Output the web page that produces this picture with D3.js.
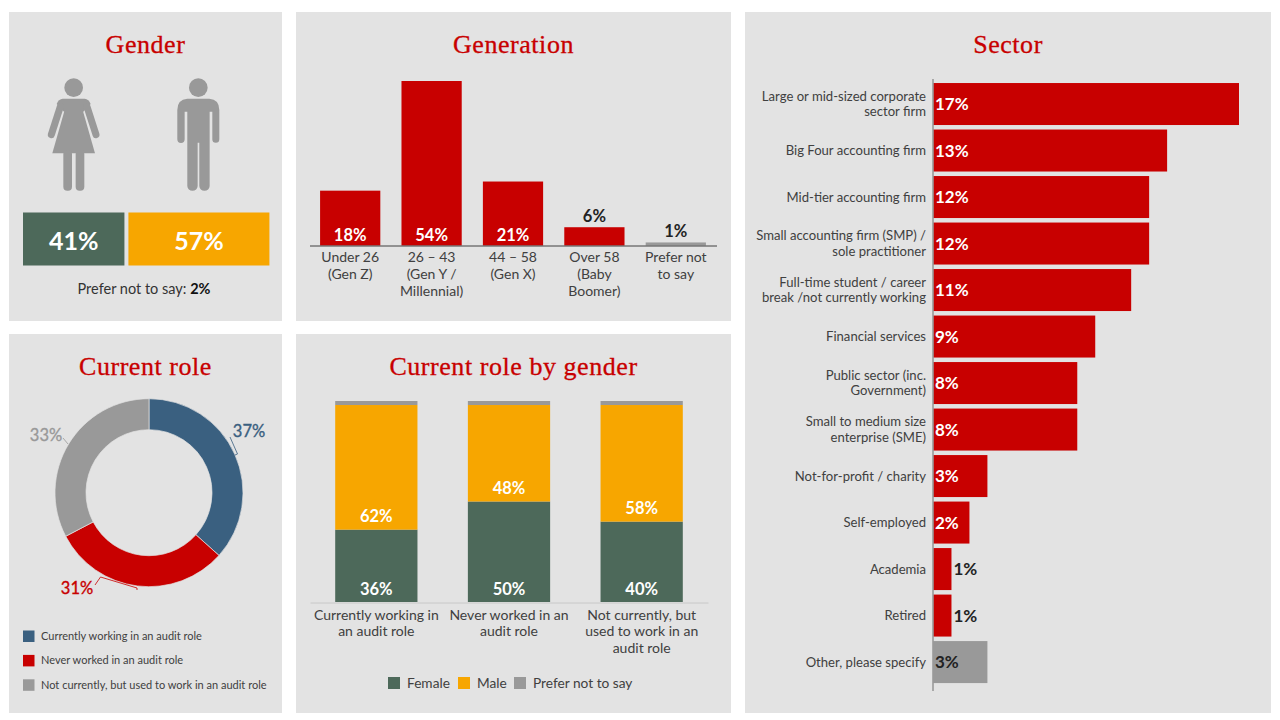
<!DOCTYPE html>
<html>
<head>
<meta charset="utf-8">
<script src="https://cdn.jsdelivr.net/npm/d3@7"></script>
<style>
body { margin: 0; background: #fff; }
text { font-family: Lato, "Open Sans", sans-serif; }
.title { font-family: "Liberation Serif", serif; font-size: 26px; letter-spacing: 0.55px; fill: #c80000; text-anchor: middle; stroke: #c80000; stroke-width: 0.3px; }
.tick text { fill: #404040; }
</style>
</head>
<body>
<script>
var RED = "#c80000", GREEN = "#4d695a", ORANGE = "#f7a600", GREY = "#999999", BLUE = "#3a6080";

// gender
var genderValues = [41, 57];
var genderOther = 2;

// generation
var genCategories = ["Under 26|(Gen Z)", "26 – 43|(Gen Y /|Millennial)", "44 – 58|(Gen X)", "Over 58|(Baby|Boomer)", "Prefer not|to say"];
var genValues = [18, 54, 21, 6, 1];

// current role donut
var roleNames = ["Currently working in an audit role", "Never worked in an audit role", "Not currently, but used to work in an audit role"];
var roleValues = [37, 31, 33];

// current role by gender
var stackCategories = ["Currently working in|an audit role", "Never worked in an|audit role", "Not currently, but|used to work in an|audit role"];
var stackFemale = [36, 50, 40];
var stackMale = [62, 48, 58];
var stackOther = [2, 2, 2];
var stackKeys = ["Female", "Male", "Prefer not to say"];

// sector
var sectorCategories = ["Large or mid-sized corporate|sector firm", "Big Four accounting firm", "Mid-tier accounting firm",
  "Small accounting firm (SMP) /|sole practitioner", "Full-time student / career|break /not currently working", "Financial services",
  "Public sector (inc.|Government)", "Small to medium size|enterprise (SME)", "Not-for-profit / charity", "Self-employed",
  "Academia", "Retired", "Other, please specify"];
var sectorValues = [17, 13, 12, 12, 11, 9, 8, 8, 3, 2, 1, 1, 3];

var svg = d3.select("body").append("svg")
  .attr("width", 1280)
  .attr("height", 720)
  .style("display", "block");

// panels
var panels = [[9, 12, 273, 309], [296, 12, 435, 309], [9, 334, 273, 379], [296, 334, 435, 379], [745, 12, 526, 701]];
svg.selectAll("rect.panel").data(panels).enter().append("rect")
  .attr("class", "panel")
  .attr("x", function(d) { return d[0]; })
  .attr("y", function(d) { return d[1]; })
  .attr("width", function(d) { return d[2]; })
  .attr("height", function(d) { return d[3]; })
  .attr("fill", "#e3e3e3");

function title(t, x, y) {
  svg.append("text").attr("class", "title").attr("x", x).attr("y", y).text(t);
}
title("Gender", 145.5, 53);
title("Generation", 513.5, 53);
title("Current role", 145.5, 375);
title("Current role by gender", 513.5, 375);
title("Sector", 1008, 53);

// puts "a|b|c" labels of an axis on separate lines
function wrapTicks(sel, lineHeight, firstDy) {
  sel.selectAll(".tick text").each(function(d) {
    var t = d3.select(this), x = t.attr("x") || 0;
    var lines = d.split("|");
    t.text(null);
    lines.forEach(function(l, i) {
      t.append("tspan").attr("x", x)
        .attr("dy", i == 0 ? (firstDy === null ? (-(lines.length - 1) * lineHeight / 2 + 4.5) : firstDy) : lineHeight)
        .text(l);
    });
  });
}

/* ---- Gender ---- */
var icons = svg.append("g").attr("transform", "scale(0.3333)").attr("fill", GREY);
// woman
icons.append("circle").attr("cx", 221).attr("cy", 263).attr("r", 28);
icons.append("path").attr("d", "M188,296 H254 Q266,297 272,312 L250,335 H192 L170,312 Q176,297 188,296 Z");
icons.append("path").attr("d", "M194,330 L157,460 H285 L248,330 Z");
icons.append("rect").attr("x", 190).attr("y", 450).attr("width", 26).attr("height", 122).attr("rx", 12);
icons.append("rect").attr("x", 227).attr("y", 450).attr("width", 26).attr("height", 122).attr("rx", 12);
icons.selectAll("line.arm").data([[181, 154], [261, 288]]).enter().append("line")
  .attr("class", "arm")
  .attr("x1", function(d) { return d[0]; }).attr("y1", 320)
  .attr("x2", function(d) { return d[1]; }).attr("y2", 404)
  .attr("stroke", GREY).attr("stroke-width", 21).attr("stroke-linecap", "round");
// man
icons.append("circle").attr("cx", 595).attr("cy", 263).attr("r", 28);
icons.append("path").attr("d", "M562,296 H628 Q658,298 658,330 V418 A10.5,10.5 0 0 1 637,418 V335 H629 V558 A15,14 0 0 1 598,558 V428 H593 V558 A15,14 0 0 1 562,558 V335 H554 V418 A10.5,10.5 0 0 1 532,418 V330 Q532,298 562,296 Z");

var genderW = d3.scaleLinear().domain([0, 57]).range([0, 141]);
var genderColors = [GREEN, ORANGE];
var genderX = [23, 23 + genderW(genderValues[0]) + 4];
svg.selectAll("rect.gender").data(genderValues).enter().append("rect")
  .attr("class", "gender")
  .attr("x", function(d, i) { return genderX[i]; })
  .attr("y", 212.5)
  .attr("width", function(d) { return genderW(d); })
  .attr("height", 53)
  .attr("fill", function(d, i) { return genderColors[i]; });
svg.selectAll("text.gender").data(genderValues).enter().append("text")
  .attr("class", "gender")
  .attr("x", function(d, i) { return genderX[i] + genderW(d) / 2; })
  .attr("y", 250)
  .attr("text-anchor", "middle")
  .attr("font-size", 25)
  .attr("font-weight", 700)
  .attr("fill", "#fff")
  .text(function(d) { return d + "%"; });
var pref = svg.append("text").attr("x", 144).attr("y", 294).attr("text-anchor", "middle")
  .attr("font-size", 14.5).attr("fill", "#333");
pref.append("tspan").text("Prefer not to say: ");
pref.append("tspan").attr("font-weight", 700).attr("fill", "#111").text(genderOther + "%");

/* ---- Generation ---- */
var genX = d3.scaleBand().domain(genCategories).range([309.5, 716.5]).paddingInner(0.26).paddingOuter(0.13);
var genY = d3.scaleLinear().domain([0, 54]).range([245.5, 81]);

svg.selectAll("rect.gen").data(genValues).enter().append("rect")
  .attr("class", "gen")
  .attr("x", function(d, i) { return genX(genCategories[i]); })
  .attr("y", function(d) { return genY(d); })
  .attr("width", genX.bandwidth())
  .attr("height", function(d) { return genY(0) - genY(d); })
  .attr("fill", function(d, i) { return i == 4 ? GREY : RED; });
svg.selectAll("text.gen").data(genValues).enter().append("text")
  .attr("class", "gen")
  .attr("x", function(d, i) { return genX(genCategories[i]) + genX.bandwidth() / 2; })
  .attr("y", function(d) { return d > 10 ? 240.5 : genY(d) - 5; })
  .attr("text-anchor", "middle")
  .attr("font-size", 16.5)
  .attr("font-weight", 700)
  .attr("fill", function(d) { return d > 10 ? "#fff" : "#222"; })
  .text(function(d) { return d + "%"; });

var genAxis = svg.append("g").attr("transform", "translate(0,245.5)")
  .call(d3.axisBottom(genX).tickSize(0).tickPadding(0));
genAxis.select(".domain").attr("stroke", "#404040");
genAxis.selectAll(".tick text").attr("font-size", 14).attr("y", 0).attr("dy", null);
wrapTicks(genAxis, 16.8, 16.5);

/* ---- Current role donut ---- */
var roleColors = [BLUE, RED, GREY];
var pie = d3.pie().sort(null).value(function(d) { return d; });
var arc = d3.arc().innerRadius(63).outerRadius(94);
var donut = svg.append("g").attr("transform", "translate(149,492.7)");
donut.selectAll("path").data(pie(roleValues)).enter().append("path")
  .attr("d", arc)
  .attr("fill", function(d, i) { return roleColors[i]; })
  .attr("stroke", "#e3e3e3")
  .attr("stroke-width", 0.7);

// leader lines
var leaders = [
  [BLUE, "M230,437 L237.5,454 L235,455"],
  [RED, "M95,585 L100.5,577 L137,588 L137,590"],
  [GREY, "M63,438 L68,444"]
];
svg.selectAll("path.leader").data(leaders).enter().append("path")
  .attr("class", "leader")
  .attr("d", function(d) { return d[1]; })
  .attr("fill", "none")
  .attr("stroke", function(d) { return d[0]; })
  .attr("stroke-width", 0.8);

var roleLabelPos = [[249, 437], [77, 594], [46, 441]];
svg.selectAll("text.rolelabel").data(roleValues).enter().append("text")
  .attr("class", "rolelabel")
  .attr("x", function(d, i) { return roleLabelPos[i][0]; })
  .attr("y", function(d, i) { return roleLabelPos[i][1]; })
  .attr("text-anchor", "middle")
  .attr("font-size", 16.5)
  .attr("fill", function(d, i) { return roleColors[i]; })
  .attr("stroke", function(d, i) { return roleColors[i]; })
  .attr("stroke-width", 0.35)
  .text(function(d) { return d + "%"; });

var roleLegend = svg.selectAll("g.rolelegend").data(roleNames).enter().append("g")
  .attr("class", "rolelegend")
  .attr("transform", function(d, i) { return "translate(23," + (636 + i * 24.4) + ")"; });
roleLegend.append("rect").attr("y", -5.5).attr("width", 11.5).attr("height", 11.5)
  .attr("fill", function(d, i) { return roleColors[i]; });
roleLegend.append("text").attr("x", 18).attr("y", 4).attr("font-size", 11)
  .attr("fill", "#404040").text(function(d) { return d; });

/* ---- Current role by gender ---- */
var stackRows = stackCategories.map(function(c, i) {
  return { cat: c, "Female": stackFemale[i], "Male": stackMale[i], "Prefer not to say": stackOther[i] };
});
var stackColors = d3.scaleOrdinal().domain(stackKeys).range([GREEN, ORANGE, GREY]);
var stackX = d3.scaleBand().domain(stackCategories).range([310, 708]).paddingInner(0.38).paddingOuter(0.19);
var stackY = d3.scaleLinear().domain([0, 100]).range([602, 401]);
var stacked = d3.stack().keys(stackKeys)(stackRows);

var layers = svg.selectAll("g.layer").data(stacked).enter().append("g")
  .attr("class", "layer")
  .attr("fill", function(d) { return stackColors(d.key); });
layers.selectAll("rect").data(function(d) { return d; }).enter().append("rect")
  .attr("x", function(d) { return stackX(d.data.cat); })
  .attr("y", function(d) { return stackY(d[1]); })
  .attr("width", stackX.bandwidth())
  .attr("height", function(d) { return stackY(d[0]) - stackY(d[1]); });
layers.filter(function(d) { return d.key != "Prefer not to say"; })
  .selectAll("text").data(function(d) { return d; }).enter().append("text")
  .attr("x", function(d) { return stackX(d.data.cat) + stackX.bandwidth() / 2; })
  .attr("y", function(d) { return stackY(d[0]) - 7.5; })
  .attr("text-anchor", "middle")
  .attr("font-size", 16.5)
  .attr("font-weight", 700)
  .attr("fill", "#fff")
  .text(function(d) { return (d[1] - d[0]) + "%"; });

var stackAxis = svg.append("g").attr("transform", "translate(0,602.5)")
  .call(d3.axisBottom(stackX).tickSize(0).tickPadding(0));
stackAxis.select(".domain").attr("stroke", "#c8c8c8");
stackAxis.selectAll(".tick text").attr("font-size", 14).attr("y", 0).attr("dy", null);
wrapTicks(stackAxis, 16.8, 17);

var stackLegendX = [388, 458, 514];
var stackLegend = svg.selectAll("g.stacklegend").data(stackKeys).enter().append("g")
  .attr("class", "stacklegend")
  .attr("transform", function(d, i) { return "translate(" + stackLegendX[i] + ",683)"; });
stackLegend.append("rect").attr("y", -6).attr("width", 12).attr("height", 12)
  .attr("fill", function(d) { return stackColors(d); });
stackLegend.append("text").attr("x", 19).attr("y", 5).attr("font-size", 13.7)
  .attr("fill", "#404040").text(function(d) { return d; });

/* ---- Sector ---- */
var sectorY = d3.scaleBand().domain(sectorCategories).range([80.8, 685.3]).paddingInner(0.097).paddingOuter(0.048);
var sectorX = d3.scaleLinear().domain([0, 17]).range([933.5, 1239]);

svg.selectAll("rect.sector").data(sectorValues).enter().append("rect")
  .attr("class", "sector")
  .attr("x", sectorX(0))
  .attr("y", function(d, i) { return sectorY(sectorCategories[i]); })
  .attr("width", function(d) { return sectorX(d) - sectorX(0); })
  .attr("height", sectorY.bandwidth())
  .attr("fill", function(d, i) { return i == sectorValues.length - 1 ? GREY : RED; });
svg.selectAll("text.sector").data(sectorValues).enter().append("text")
  .attr("class", "sector")
  .attr("x", function(d) { return d == 1 ? sectorX(d) + 2 : sectorX(0) + 1.5; })
  .attr("y", function(d, i) { return sectorY(sectorCategories[i]) + sectorY.bandwidth() / 2 + 6; })
  .attr("font-size", 17)
  .attr("font-weight", 700)
  .attr("fill", function(d, i) { return d == 1 || i == sectorValues.length - 1 ? "#222" : "#fff"; })
  .text(function(d) { return d + "%"; });

var sectorAxis = svg.append("g").attr("transform", "translate(933,0)")
  .call(d3.axisLeft(sectorY).tickSize(0).tickPadding(7));
sectorAxis.select(".domain").remove();
sectorAxis.selectAll(".tick text").attr("font-size", 13.1).attr("dy", null);
wrapTicks(sectorAxis, 15.3, null);
svg.append("line").attr("x1", 933).attr("x2", 933).attr("y1", 79).attr("y2", 691)
  .attr("stroke", "#808080").attr("stroke-width", 1.2);
</script>
</body>
</html>
